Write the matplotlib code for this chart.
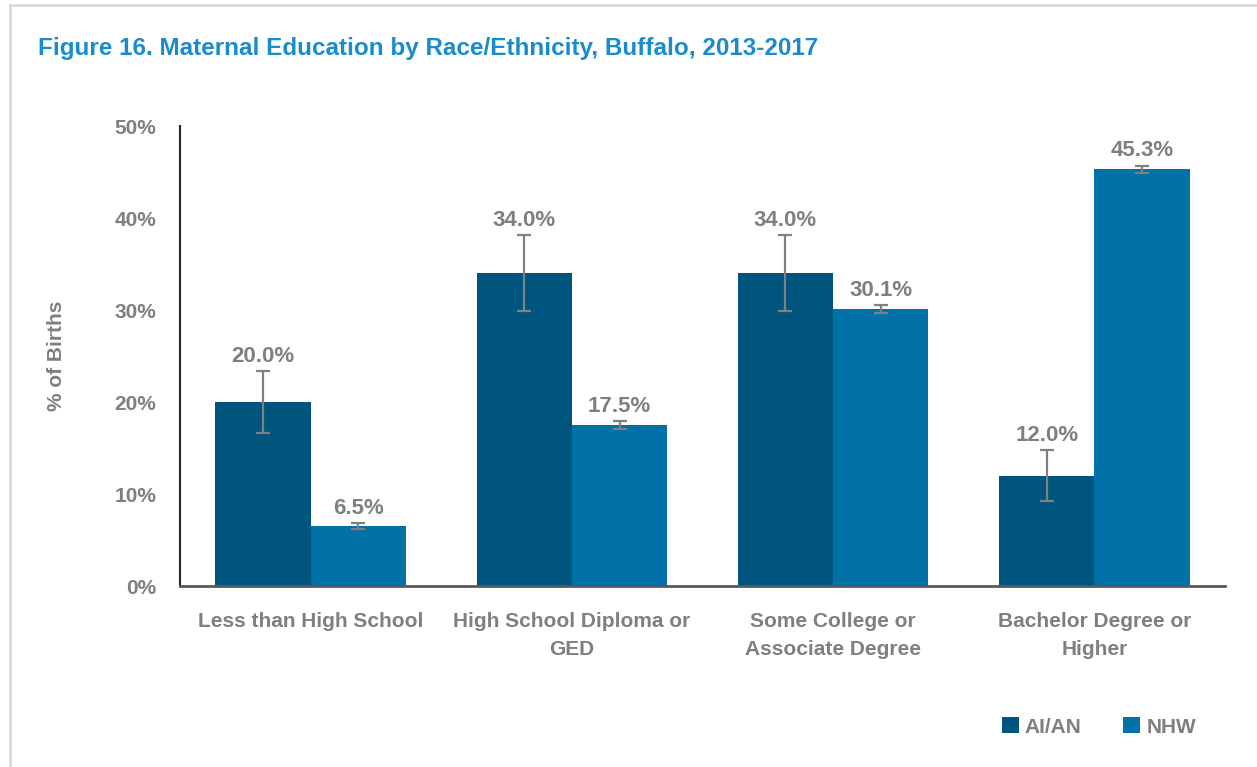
import matplotlib
matplotlib.use("Agg")
import matplotlib.pyplot as plt
import numpy as np
from matplotlib.lines import Line2D

categories = ["Less than High School", "High School Diploma or\nGED",
              "Some College or\nAssociate Degree", "Bachelor Degree or\nHigher"]
series_names = ["AI/AN", "NHW"]
aian = [20.0, 34.0, 34.0, 12.0]
nhw = [6.5, 17.5, 30.1, 45.3]
aian_err = [3.4, 4.1, 4.1, 2.8]
nhw_err = [0.3, 0.4, 0.4, 0.4]
yticks = [0, 10, 20, 30, 40, 50]

plt.rcParams['font.family'] = ['Liberation Sans', 'DejaVu Sans']
plt.rcParams['font.weight'] = 'bold'

GRAY = '#7f7f7f'
C1 = '#00557f'
C2 = '#0072a8'

fig = plt.figure(figsize=(12.57, 7.67), dpi=100)
# light frame (left and top edges)
fig.lines.append(Line2D([10/1257, 10/1257], [0, 1 - 4.5/767], transform=fig.transFigure,
                        color='#d9d9d9', linewidth=2))
fig.lines.append(Line2D([10/1257, 1], [1 - 4.5/767, 1 - 4.5/767], transform=fig.transFigure,
                        color='#d9d9d9', linewidth=2))
ax = fig.add_axes([180/1257, 1 - 586/767, (1225-180)/1257, (586-126)/767])

x = np.arange(len(categories))
w = 0.365
ekw = dict(ecolor='#808080', elinewidth=1.6, capsize=5, capthick=1.6)
ax.bar(x - w/2, aian, w, color=C1, yerr=aian_err, error_kw=ekw, label=series_names[0])
ax.bar(x + w/2, nhw, w, color=C2, yerr=nhw_err, error_kw=ekw, label=series_names[1])

for xs, vals, errs in [(x - w/2, aian, aian_err), (x + w/2, nhw, nhw_err)]:
    for xi, v, e in zip(xs, vals, errs):
        ax.annotate(f"{v:.1f}%", (xi, v + e), xytext=(0, 3), textcoords='offset points',
                    ha='center', va='bottom', fontsize=16, color=GRAY, fontweight='bold')

ax.set_xlim(-0.5, len(categories) - 0.5)
ax.set_ylim(0, 50)
ax.set_yticks(yticks)
ax.set_yticklabels([f"{t}%" for t in yticks], fontsize=15, color=GRAY, fontweight='bold')
ax.set_xticks(x)
ax.set_xticklabels(categories, fontsize=15, color=GRAY, fontweight='bold', linespacing=1.6)
ax.tick_params(axis='both', length=0)
ax.tick_params(axis='y', pad=17)
ax.tick_params(axis='x', pad=19)
for s in ['top', 'right']:
    ax.spines[s].set_visible(False)
ax.spines['left'].set_color('#262626')
ax.spines['left'].set_linewidth(1.5)
ax.spines['bottom'].set_color('#595959')
ax.spines['bottom'].set_linewidth(2)

fig.text(57/1257, 1 - 356/767, "% of Births", rotation=90, ha='center', va='center',
         fontsize=15, color=GRAY, fontweight='bold')
fig.text(38/1257, 1 - 48/767, "Figure 16. Maternal Education by Race/Ethnicity, Buffalo, 2013-2017",
         ha='left', va='center', fontsize=17.5, color='#1a8ccc', fontweight='bold')

leg = fig.legend(loc='center', bbox_to_anchor=(1099/1257, 1 - 727/767), ncol=2, frameon=False,
                 fontsize=15, handlelength=0.8, handleheight=0.8, handletextpad=0.3,
                 columnspacing=2.0, borderaxespad=0)
for t in leg.get_texts():
    t.set_color(GRAY)
    t.set_fontweight('bold')

fig.savefig("out.png", dpi=100)
